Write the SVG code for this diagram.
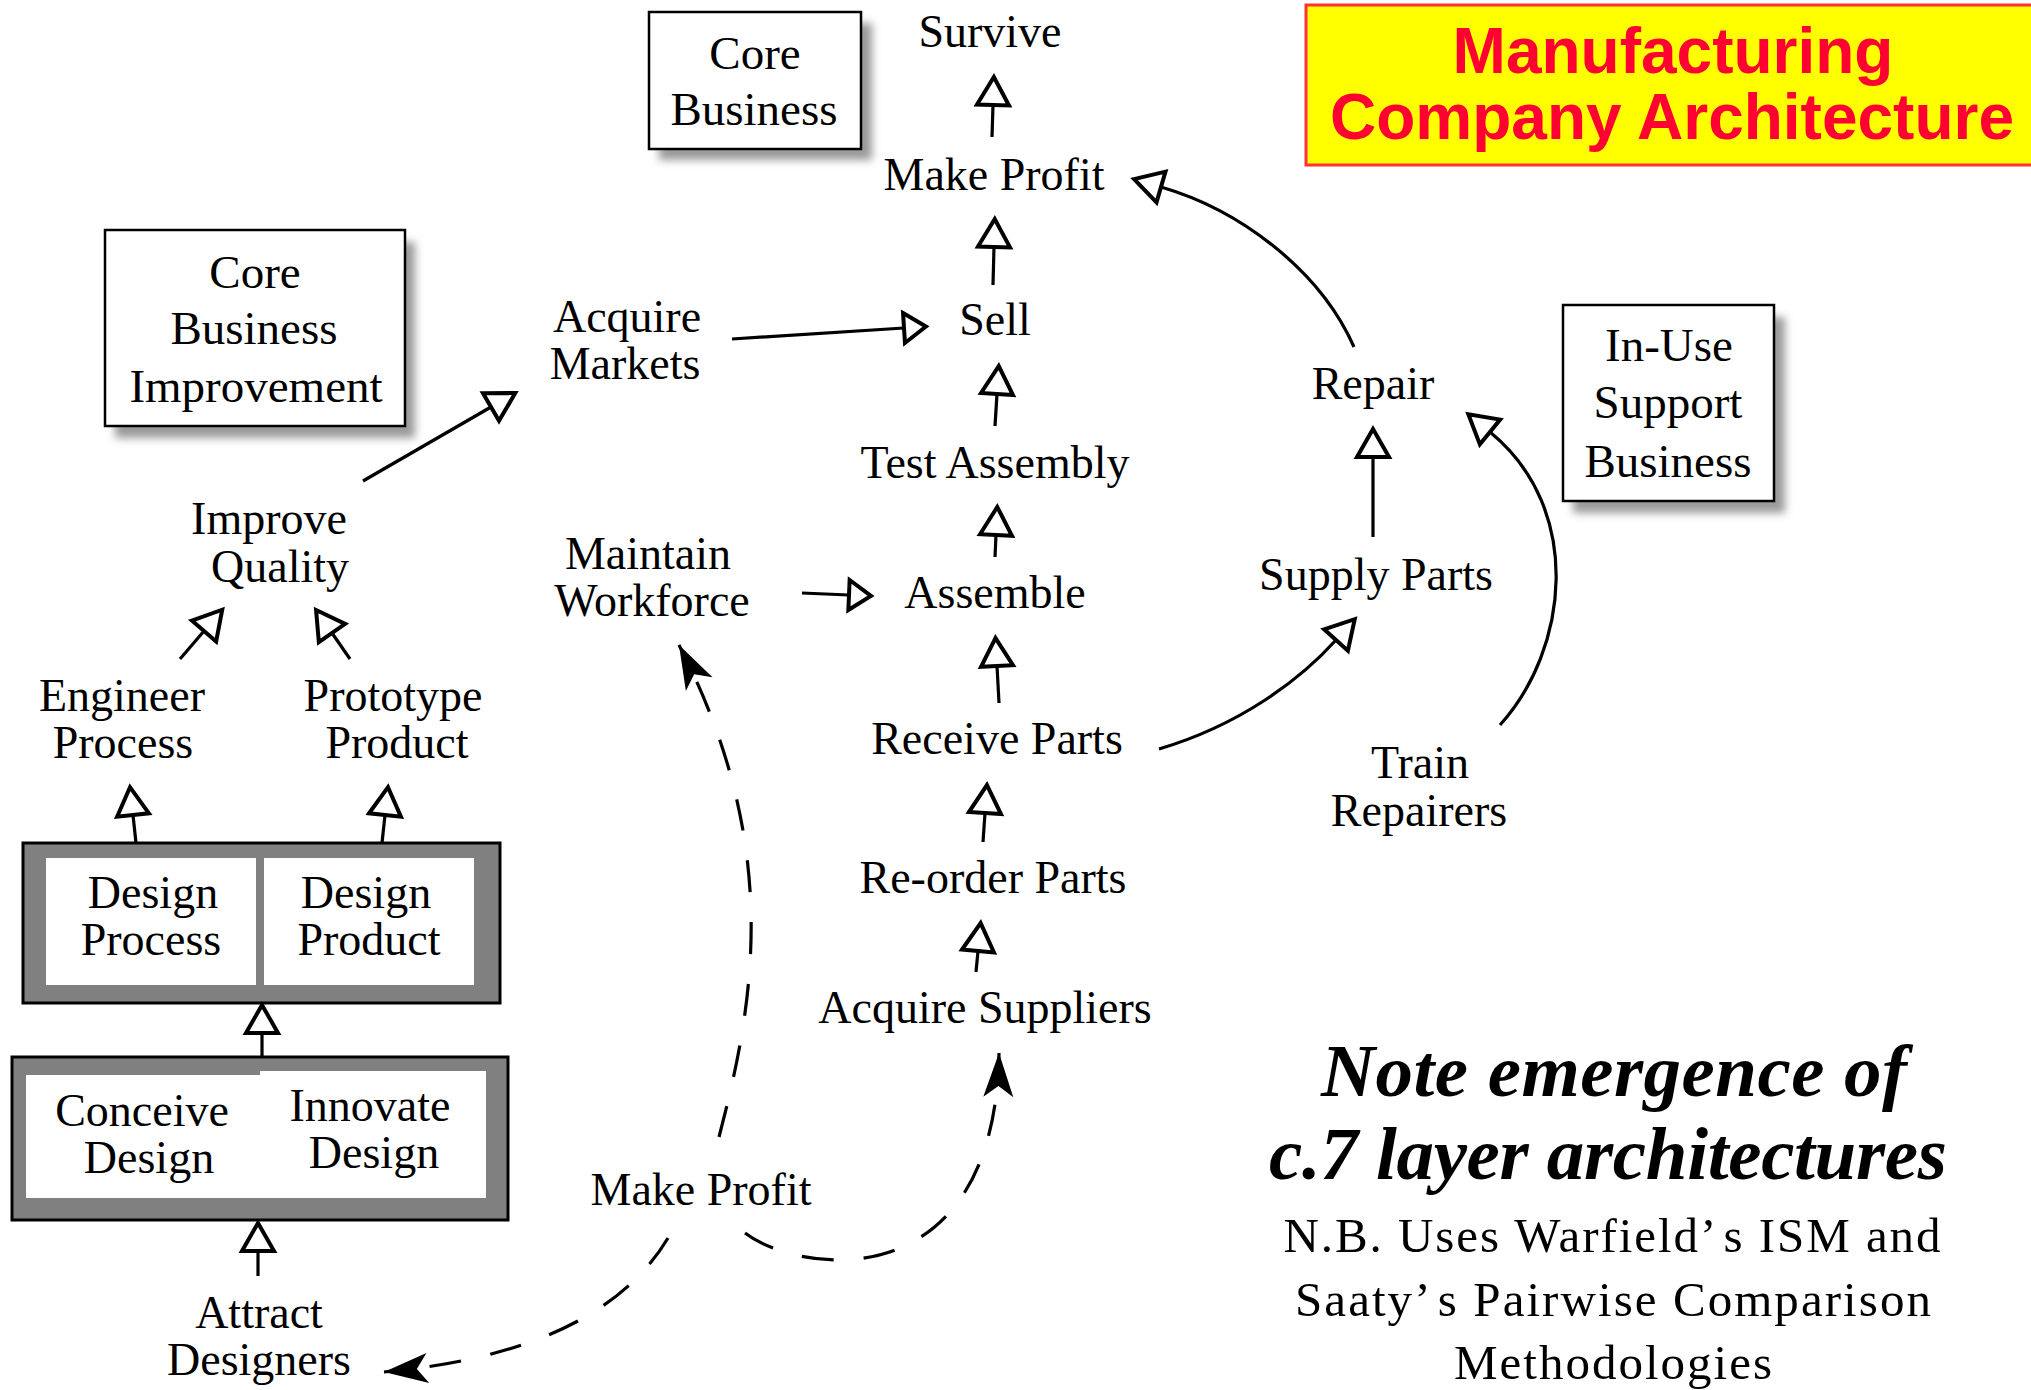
<svg xmlns="http://www.w3.org/2000/svg" width="2031" height="1390" viewBox="0 0 2031 1390">
  <style>
    .lbl { font-family: 'Liberation Serif', 'Times New Roman', serif; font-size: 46px; fill: #000; text-anchor: middle; }
    .boxed { font-size: 47px; }
    .title { font-family: 'Liberation Sans', Arial, sans-serif; font-weight: bold; font-size: 64px; fill: #ff0033; text-anchor: middle; }
    .note-em { font-family: 'Liberation Serif', 'Times New Roman', serif; font-weight: bold; font-style: italic; font-size: 75px; fill: #000; text-anchor: middle; }
    .note { font-family: 'Liberation Serif', 'Times New Roman', serif; font-size: 49px; fill: #000; text-anchor: middle; }
    .card { fill: #fff; stroke: #000; stroke-width: 2.5; }
    .shadow { fill: #9a9a9a; filter: url(#soft); }
    .frame { fill: #808080; stroke: #000; stroke-width: 3; }
    .panel { fill: #fff; }
    .link { fill: none; stroke: #000; stroke-width: 3.2; }
    .up { marker-end: url(#openV); }
    .side { marker-end: url(#openH); }
    .dash { fill: none; stroke: #000; stroke-width: 3.2; stroke-dasharray: 32 30; marker-end: url(#stealth); }
  </style>
  <defs>
    <filter id="soft" x="-20%" y="-20%" width="140%" height="140%">
      <feGaussianBlur stdDeviation="4"/>
    </filter>
    <marker id="openV" markerUnits="userSpaceOnUse" viewBox="-4 -20 38 40" markerWidth="38" markerHeight="40" refX="0" refY="0" orient="auto" overflow="visible">
      <path d="M0,-16 L28,0 L0,16 Z" fill="#fff" stroke="#000" stroke-width="4"/>
    </marker>
    <marker id="openH" markerUnits="userSpaceOnUse" viewBox="-4 -20 34 40" markerWidth="34" markerHeight="40" refX="0" refY="0" orient="auto" overflow="visible">
      <path d="M0,-15 L22,0 L0,15 Z" fill="#fff" stroke="#000" stroke-width="4"/>
    </marker>
    <marker id="stealth" markerUnits="userSpaceOnUse" viewBox="-48 -18 52 36" markerWidth="52" markerHeight="36" refX="0" refY="0" orient="auto" overflow="visible">
      <path d="M0,0 L-44,-15 L-33,0 L-44,15 Z" fill="#000"/>
    </marker>
  </defs>

  <rect x="0" y="0" width="2031" height="1390" fill="#fff"/>

  <!-- title banner -->
  <g id="title">
    <rect x="1306" y="5" width="740" height="160" fill="#ffff00" stroke="#ff3333" stroke-width="3"/>
    <text class="title" x="1673" y="73">Manufacturing<tspan x="1672" dy="66">Company Architecture</tspan></text>
  </g>

  <!-- business-area cards -->
  <g id="core-business">
    <rect class="shadow" x="659" y="23" width="213" height="137"/>
    <rect class="card" x="649" y="12" width="212" height="137"/>
    <text class="lbl boxed" x="755" y="69">Core<tspan x="754" dy="56">Business</tspan></text>
  </g>
  <g id="core-business-improvement">
    <rect class="shadow" x="115" y="242" width="300" height="196"/>
    <rect class="card" x="105" y="230" width="300" height="196"/>
    <text class="lbl boxed" x="255" y="288">Core<tspan x="254" dy="56">Business</tspan><tspan x="256" dy="58">Improvement</tspan></text>
  </g>
  <g id="in-use-support">
    <rect class="shadow" x="1573" y="317" width="212" height="196"/>
    <rect class="card" x="1563" y="305" width="211" height="196"/>
    <text class="lbl boxed" x="1669" y="361">In-Use<tspan x="1668" dy="57">Support</tspan><tspan x="1668" dy="59">Business</tspan></text>
  </g>

  <!-- central chain -->
  <g id="survive"><text class="lbl" x="990" y="47">Survive</text></g>
  <g id="make-profit"><text class="lbl" x="994" y="190">Make Profit</text></g>
  <g id="sell"><text class="lbl" x="995" y="335">Sell</text></g>
  <g id="test-assembly"><text class="lbl" x="995" y="478">Test Assembly</text></g>
  <g id="assemble"><text class="lbl" x="995" y="608">Assemble</text></g>
  <g id="receive-parts"><text class="lbl" x="997" y="754">Receive Parts</text></g>
  <g id="reorder-parts"><text class="lbl" x="993" y="893">Re-order Parts</text></g>
  <g id="acquire-suppliers"><text class="lbl" x="985" y="1023">Acquire Suppliers</text></g>
  <g id="make-profit-base"><text class="lbl" x="701" y="1205">Make Profit</text></g>

  <g id="acquire-markets">
    <text class="lbl" x="627" y="332">Acquire<tspan x="625" dy="47">Markets</tspan></text>
  </g>
  <g id="maintain-workforce">
    <text class="lbl" x="648" y="569">Maintain<tspan x="652" dy="47">Workforce</tspan></text>
  </g>

  <!-- improvement branch -->
  <g id="improve-quality">
    <text class="lbl" x="269" y="534">Improve<tspan x="280" dy="48">Quality</tspan></text>
  </g>
  <g id="engineer-process">
    <text class="lbl" x="122" y="711">Engineer<tspan x="123" dy="47">Process</tspan></text>
  </g>
  <g id="prototype-product">
    <text class="lbl" x="393" y="711">Prototype<tspan x="397" dy="47">Product</tspan></text>
  </g>

  <g id="design-layer">
    <rect class="frame" x="23" y="843" width="477" height="160"/>
    <rect class="panel" x="46" y="858" width="210" height="127"/>
    <rect class="panel" x="264" y="858" width="210" height="127"/>
    <text class="lbl" x="153" y="908">Design<tspan x="151" dy="47">Process</tspan></text>
    <text class="lbl" x="366" y="908">Design<tspan x="369" dy="47">Product</tspan></text>
  </g>
  <g id="concept-layer">
    <rect class="frame" x="12" y="1057" width="496" height="163"/>
    <rect class="panel" x="26" y="1075" width="236" height="123"/>
    <rect class="panel" x="260" y="1071" width="226" height="127"/>
    <text class="lbl" x="142" y="1126">Conceive<tspan x="149" dy="47">Design</tspan></text>
    <text class="lbl" x="370" y="1121">Innovate<tspan x="374" dy="47">Design</tspan></text>
  </g>
  <g id="attract-designers">
    <text class="lbl" x="259" y="1328">Attract<tspan x="259" dy="47">Designers</tspan></text>
  </g>

  <!-- support branch -->
  <g id="repair"><text class="lbl" x="1373" y="399">Repair</text></g>
  <g id="supply-parts"><text class="lbl" x="1376" y="590">Supply Parts</text></g>
  <g id="train-repairers">
    <text class="lbl" x="1420" y="778">Train<tspan x="1419" dy="48">Repairers</tspan></text>
  </g>

  <!-- note -->
  <g id="note">
    <text class="note-em" x="1614" y="1096" textLength="586" lengthAdjust="spacing">Note emergence of</text>
    <text class="note-em" x="1608" y="1179" textLength="678" lengthAdjust="spacing">c.7 layer architectures</text>
    <text class="note" x="1612" y="1252" textLength="657" lengthAdjust="spacing">N.B. Uses Warfield’<tspan dx="8">s</tspan> ISM and</text>
    <text class="note" x="1613" y="1316" textLength="636" lengthAdjust="spacing">Saaty’<tspan dx="8">s</tspan> Pairwise Comparison</text>
    <text class="note" x="1613" y="1379" textLength="318" lengthAdjust="spacing">Methodologies</text>
  </g>

  <!-- connectors -->
  <g id="connectors">
    <path class="link up" d="M992,137 L993,105"/>
    <path class="link up" d="M993,285 L994,247"/>
    <path class="link up" d="M995,426 L997,394"/>
    <path class="link up" d="M995,557 L996,535"/>
    <path class="link up" d="M999,703 L997,666"/>
    <path class="link up" d="M983,842 L985,813"/>
    <path class="link up" d="M976,972 L978,951"/>
    <path class="link side" d="M732,339 L904,328"/>
    <path class="link side" d="M802,593 L849,595"/>
    <path class="link up" d="M1373,537 L1373,457"/>
    <path class="link up" d="M1354,347 C1320,270 1240,210 1161,187"/>
    <path class="link up" d="M1159,749 C1240,725 1300,680 1336,640"/>
    <path class="link up" d="M1500,725 C1568,650 1585,510 1490,432"/>
    <path class="link up" d="M363,481 L491,407"/>
    <path class="link up" d="M180,659 L204,631"/>
    <path class="link up" d="M350,659 L332,633"/>
    <path class="link up" d="M136,843 L133,815"/>
    <path class="link up" d="M382,843 L385,815"/>
    <path class="link up" d="M262,1057 L262,1033"/>
    <path class="link up" d="M258,1276 L258,1251"/>
    <path class="dash" d="M719,1137 C752,1010 785,850 679,645"/>
    <path class="dash" d="M668,1238 Q600,1352 384,1372"/>
    <path class="dash" d="M745,1233 C800,1275 995,1300 999,1053"/>
  </g>
</svg>
